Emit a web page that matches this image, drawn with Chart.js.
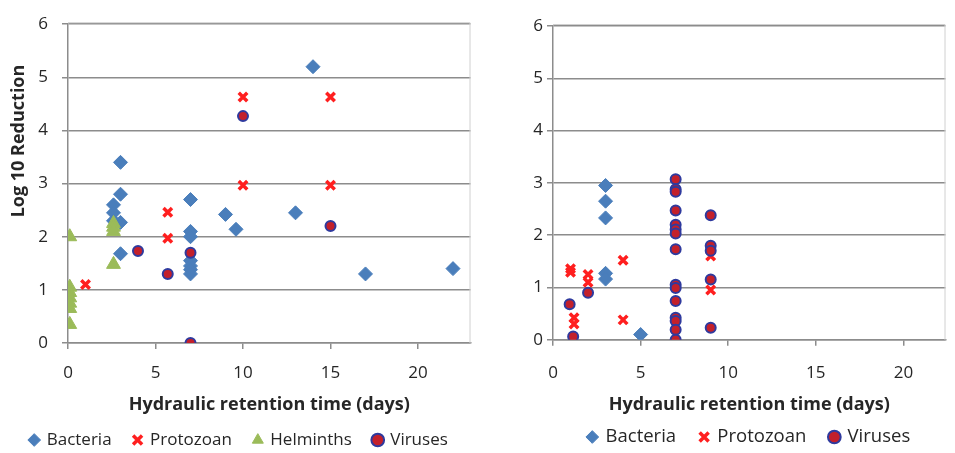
<!DOCTYPE html>
<html>
<head>
<meta charset="utf-8">
<script src="https://cdn.jsdelivr.net/npm/chart.js@4.4.1/dist/chart.umd.min.js"></script>
<style>
  body { margin: 0; background: #fff; }
  #boxL { position: absolute; left: 0; top: 0; width: 480px; height: 453px; }
  #boxR { position: absolute; left: 480px; top: 0; width: 475px; height: 453px; }
</style>
</head>
<body>
<div id="boxL"><canvas id="left" width="480" height="453"></canvas></div>
<div id="boxR"><canvas id="right" width="475" height="453"></canvas></div>
<script>
// left panel: retention time (days) / log10 reduction
const bactDaysL  = [2.6, 2.6, 2.6, 3, 3, 3, 3, 7, 7, 7, 7, 7, 7, 7, 9, 9.6, 13, 14, 17, 22];
const bactLogL   = [2.6, 2.45, 2.3, 3.4, 2.8, 2.27, 1.68, 2.7, 2.1, 2.0, 1.55, 1.45, 1.38, 1.3, 2.42, 2.14, 2.45, 5.2, 1.3, 1.4];
const protoDaysL = [1, 5.7, 5.7, 10, 10, 15, 15];
const protoLogL  = [1.1, 2.46, 1.97, 4.63, 2.97, 4.63, 2.97];
const helmDaysL  = [0.1, 0.1, 0.1, 0.1, 0.1, 0.1, 0.1, 2.6, 2.6, 2.6, 2.6];
const helmLogL   = [2.0, 1.05, 0.95, 0.85, 0.75, 0.65, 0.35, 2.25, 2.18, 2.1, 1.48];
const virDaysL   = [4, 5.7, 7, 7, 10, 15];
const virLogL    = [1.73, 1.3, 1.7, 0, 4.27, 2.2];

// right panel
const bactDaysR  = [3, 3, 3, 3, 3, 5];
const bactLogR   = [2.95, 2.65, 2.33, 1.27, 1.16, 0.1];
const protoDaysR = [1, 1, 1.2, 1.2, 2, 2, 4, 4, 9, 9];
const protoLogR  = [1.36, 1.29, 0.42, 0.3, 1.25, 1.1, 1.52, 0.38, 1.6, 0.95];
const virDaysR   = [0.95, 1.15, 2, 7, 7, 7, 7, 7, 7, 7, 7, 7, 7, 7, 7, 7, 7, 7, 9, 9, 9, 9, 9];
const virLogR    = [0.68, 0.06, 0.9, 3.07, 2.88, 2.83, 2.47, 2.2, 2.11, 2.03, 1.73, 1.05, 0.99, 0.74, 0.42, 0.36, 0.19, 0.0, 2.38, 1.8, 1.7, 1.15, 0.23];

const yTicks = [0, 1, 2, 3, 4, 5, 6];
const xTicks = [0, 5, 10, 15, 20];

const FONT = '"Open Sans"';
const GRID = '#8c8c8c';
const TXT = '#262626';

const pts = (xs, ys) => xs.map((x, i) => ({ x, y: ys[i] }));

function bacteria(xs, ys) {
  return { label: 'Bacteria', data: pts(xs, ys), order: 4, pointStyle: 'rectRot', pointRadius: 7,
    backgroundColor: '#4a7ebb', borderColor: '#4a7ebb', borderWidth: 1 };
}
function protozoan(xs, ys) {
  return { label: 'Protozoan', data: pts(xs, ys), order: 3, pointStyle: 'crossRot', pointRadius: 6,
    backgroundColor: '#ff1f1f', borderColor: '#ff1f1f', borderWidth: 3.5 };
}
function helminths(xs, ys) {
  return { label: 'Helminths', data: pts(xs, ys), order: 2, pointStyle: 'triangle', pointRadius: 8,
    backgroundColor: '#9bbb59', borderColor: '#9bbb59', borderWidth: 1 };
}
function viruses(xs, ys) {
  return { label: 'Viruses', data: pts(xs, ys), order: 1, pointStyle: 'circle', pointRadius: 5,
    backgroundColor: '#c3202b', borderColor: '#2f3a9e', borderWidth: 2 };
}

// light frame around the plot area
const frame = {
  id: 'frame',
  beforeDatasetsDraw(chart) {
    const { ctx, chartArea: a } = chart;
    ctx.save();
    ctx.strokeStyle = '#d0d0d0';
    ctx.lineWidth = 1;
    ctx.beginPath();
    ctx.moveTo(a.left, a.top - 1.5);
    ctx.lineTo(a.right - 0.5, a.top - 1.5);
    ctx.lineTo(a.right - 0.5, a.bottom);
    ctx.stroke();
    ctx.restore();
  }
};

const yTitle = {
  id: 'yTitle',
  afterDraw(chart) {
    const ctx = chart.ctx;
    ctx.save();
    ctx.translate(19, 141);
    ctx.rotate(-Math.PI / 2);
    ctx.font = 'bold 18px ' + FONT;
    ctx.fillStyle = TXT;
    ctx.textAlign = 'center';
    ctx.textBaseline = 'middle';
    ctx.fillText('Log 10 Reduction', 0, 0);
    ctx.restore();
  }
};

function draw(id, datasets, c) {
  new Chart(document.getElementById(id), {
    type: 'scatter',
    data: { datasets },
    options: {
      responsive: false,
      animation: false,
      layout: { padding: c.padding },
      plugins: {
        legend: {
          position: 'bottom',
          fullSize: c.legendFull,
          labels: {
            usePointStyle: true,
            boxWidth: 8,
            boxHeight: 9,
            padding: c.legendPad,
            color: TXT,
            font: { family: FONT, size: c.legendSize },
            sort: (a, b) => a.datasetIndex - b.datasetIndex
          }
        },
        tooltip: { enabled: false }
      },
      scales: {
        x: {
          type: 'linear',
          min: 0,
          max: c.xMax,
          afterBuildTicks: s => { s.ticks = xTicks.map(v => ({ value: v })); },
          afterFit: s => { s.height = c.xHeight; },
          grid: { drawOnChartArea: false, drawTicks: true, tickLength: 6, color: GRID, lineWidth: 1.5 },
          border: { color: GRID, width: 1.5 },
          ticks: { padding: c.tickPad, color: TXT, font: { family: FONT, size: 17 } },
          title: {
            display: true,
            text: 'Hydraulic retention time (days)',
            color: TXT,
            font: { family: FONT, size: 18, weight: 'bold' },
            padding: { top: 0, bottom: c.titlePad }
          }
        },
        y: {
          min: 0,
          max: 6,
          afterBuildTicks: s => { s.ticks = yTicks.map(v => ({ value: v })); },
          afterFit: s => { s.width = c.yWidth; },
          grid: { color: GRID, lineWidth: 1.5, tickLength: 6 },
          border: { color: GRID, width: 1.5 },
          ticks: { padding: c.yPad, color: TXT, font: { family: FONT, size: 17 } }
        }
      }
    },
    plugins: c.plugins
  });
}

draw('left', [
  bacteria(bactDaysL, bactLogL),
  protozoan(protoDaysL, protoLogL),
  helminths(helmDaysL, helmLogL),
  viruses(virDaysL, virLogL)
], {
  xMax: 23, yWidth: 68, xHeight: 66.5, yPad: 14, tickPad: 14, titlePad: -6,
  padding: { top: 18, right: 2, left: 0, bottom: -5.5 },
  legendFull: true, legendPad: 22, legendSize: 17,
  plugins: [frame, yTitle]
});

draw('right', [
  bacteria(bactDaysR, bactLogR),
  protozoan(protoDaysR, protoLogR),
  viruses(virDaysR, virLogR)
], {
  xMax: 22.4, yWidth: 73, xHeight: 64, yPad: 4, tickPad: 17.5, titlePad: -11.5,
  padding: { top: 26, right: 3, left: 0, bottom: -3.25 },
  legendFull: false, legendPad: 24, legendSize: 18.5,
  plugins: [frame]
});
</script>
</body>
</html>
